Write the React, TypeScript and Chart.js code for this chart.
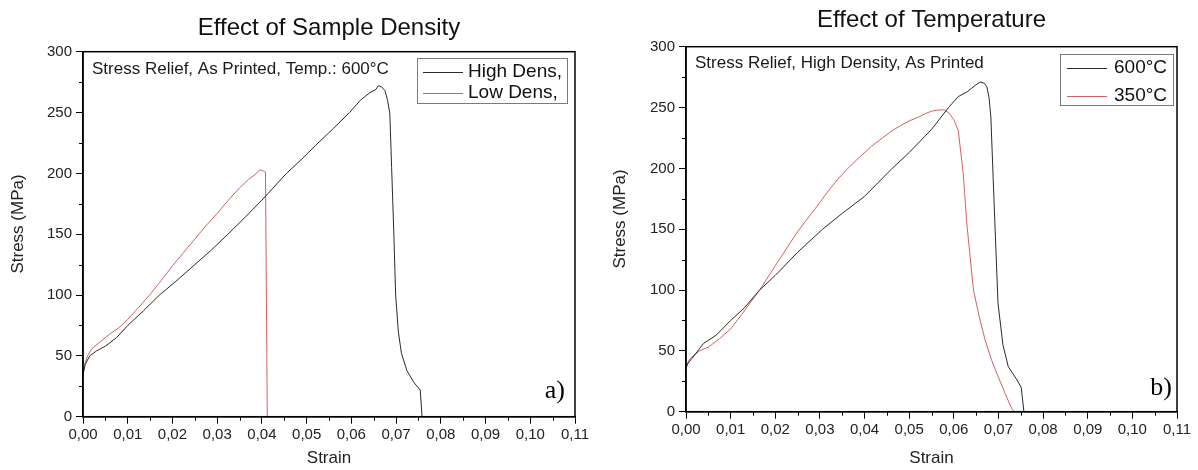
import { useEffect, useRef } from 'react';
import { Chart, registerables } from 'chart.js';

Chart.register(...registerables);

const SANS = '"Liberation Sans", Arial, Helvetica, sans-serif';
const SERIF = '"Liberation Serif", "Times New Roman", serif';

// ---------- Data: panel a) Effect of Sample Density ----------
const densityHighStrain = [0, 0.0005, 0.0015, 0.003, 0.005, 0.0075, 0.010, 0.0135, 0.0171, 0.021, 0.025, 0.0287, 0.0324, 0.036, 0.040, 0.0455, 0.049, 0.052, 0.056, 0.0596, 0.062, 0.064, 0.0655, 0.066, 0.0668, 0.0675, 0.0681, 0.0686, 0.0690, 0.0695, 0.0699, 0.0705, 0.0712, 0.0724, 0.0740, 0.0754, 0.0758];
const densityHighStress = [35, 43, 50, 54, 58, 65, 75, 87, 100, 112, 125, 137, 150, 163, 178, 200, 212, 223, 237, 250, 260, 266, 269, 272, 271, 268, 260, 249, 205, 150, 100, 70, 52, 38, 28, 22, 0];
const densityLowStrain = [0, 0.0003, 0.001, 0.002, 0.004, 0.006, 0.008, 0.010, 0.0125, 0.0149, 0.0175, 0.020, 0.0225, 0.025, 0.0275, 0.030, 0.0325, 0.035, 0.037, 0.0388, 0.0395, 0.0403, 0.0408, 0.0412];
const densityLowStress = [33, 42, 50, 56, 62, 68, 73, 80, 90, 100, 112, 124, 135, 146, 157, 167, 178, 188, 195, 200, 203, 202, 201, 0];

// ---------- Data: panel b) Effect of Temperature ----------
const temp600Strain = [0, 0.0005, 0.0016, 0.0039, 0.0068, 0.010, 0.0130, 0.0165, 0.020, 0.025, 0.0306, 0.035, 0.040, 0.0462, 0.050, 0.055, 0.0588, 0.061, 0.063, 0.0647, 0.0659, 0.0668, 0.0674, 0.0679, 0.0683, 0.0692, 0.0699, 0.0710, 0.0722, 0.0740, 0.0751, 0.0757];
const temp600Stress = [36, 40, 45, 56, 63, 75, 85, 100, 112, 131, 150, 163, 177, 200, 213, 232, 250, 259, 263, 268, 271, 270, 267, 258, 242, 155, 89, 55, 37, 27, 20, 0];
const temp350Strain = [0, 0.001, 0.003, 0.005, 0.0075, 0.010, 0.0125, 0.0145, 0.0165, 0.020, 0.025, 0.030, 0.032, 0.034, 0.036, 0.0388, 0.0415, 0.044, 0.0462, 0.048, 0.050, 0.052, 0.0536, 0.055, 0.0566, 0.0578, 0.0588, 0.0600, 0.0610, 0.0621, 0.0629, 0.0644, 0.0657, 0.0670, 0.0685, 0.0699, 0.0715, 0.0729, 0.0735];
const temp350Stress = [38, 44, 50, 53, 60, 68, 80, 90, 100, 120, 148, 172, 182, 191, 199, 209, 218, 225, 231, 235, 239, 242, 245, 247, 248, 248, 246, 240, 231, 196, 155, 100, 78, 59, 42, 29, 15, 3, 0];

// ---------- Axes ----------
const strainTicksMinor = [0.005, 0.015, 0.025, 0.035, 0.045, 0.055, 0.065, 0.075, 0.085, 0.095, 0.105];
const stressTicksMinor = [25, 75, 125, 175, 225, 275];
const xAxisTitle = 'Strain';
const yAxisTitle = 'Stress (MPa)';

const BLACK_LINE = '#2a2a2a';
const RED_LINE = '#d0625f';

type Series = { label: string; strain: number[]; stress: number[]; color: string };

type PanelSpec = {
  left: number;
  width: number;
  title: string;
  titlePadTop: number;
  titlePadBottom: number;
  yAxisWidth: number;
  xAxisHeight: number;
  rightPad: number;
  yTitleX: number;
  yTitleY: number;
  note: string;
  noteDx: number;
  noteDy: number;
  letter: string;
  letterDx: number;
  letterY: number;
  legend: { dxRight: number; dy: number; w: number; h: number; rows: number[]; line0: number; line1: number; text: number };
  series: Series[];
};

const panels: PanelSpec[] = [
  {
    left: 0,
    width: 600,
    title: 'Effect of Sample Density',
    titlePadTop: 13.6,
    titlePadBottom: 9.3,
    yAxisWidth: 83,
    xAxisHeight: 53.3,
    rightPad: 25,
    yTitleX: 18,
    yTitleY: 224,
    note: 'Stress Relief, As Printed, Temp.: 600°C',
    noteDx: 9,
    noteDy: 18,
    letter: 'a)',
    letterDx: 10,
    letterY: 391,
    legend: { dxRight: 158, dy: 6.3, w: 150, h: 45, rows: [14, 35], line0: 6, line1: 46, text: 51 },
    series: [
      { label: 'High Dens,', strain: densityHighStrain, stress: densityHighStress, color: BLACK_LINE },
      { label: 'Low Dens,', strain: densityLowStrain, stress: densityLowStress, color: RED_LINE },
    ],
  },
  {
    left: 600,
    width: 598,
    title: 'Effect of Temperature',
    titlePadTop: 5.6,
    titlePadBottom: 12.3,
    yAxisWidth: 86,
    xAxisHeight: 58.3,
    rightPad: 21,
    yTitleX: 20,
    yTitleY: 219,
    note: 'Stress Relief, High Density, As Printed',
    noteDx: 9,
    noteDy: 16.5,
    letter: 'b)',
    letterDx: 5,
    letterY: 388,
    legend: { dxRight: 117, dy: 7.3, w: 113, h: 51, rows: [14, 42], line0: 7, line1: 47, text: 54 },
    series: [
      { label: '600°C', strain: temp600Strain, stress: temp600Stress, color: BLACK_LINE },
      { label: '350°C', strain: temp350Strain, stress: temp350Stress, color: RED_LINE },
    ],
  },
];

function Panel({ spec }: { spec: PanelSpec }) {
  const ref = useRef<HTMLCanvasElement>(null);

  useEffect(() => {
    const canvas = ref.current;
    if (!canvas) return;

    const decor = {
      id: 'decor',
      afterDraw(chart: any) {
        const { ctx, chartArea: a, scales } = chart;
        const xs = scales.x;
        const ys = scales.y;
        ctx.save();
        // frame
        ctx.strokeStyle = '#000';
        ctx.lineWidth = 1.5;
        ctx.strokeRect(a.left, a.top, a.right - a.left, a.bottom - a.top);
        // minor ticks
        ctx.lineWidth = 1;
        ctx.beginPath();
        for (const v of strainTicksMinor) {
          const px = Math.round(xs.getPixelForValue(v)) + 0.5;
          ctx.moveTo(px, a.bottom);
          ctx.lineTo(px, a.bottom + 4);
        }
        for (const v of stressTicksMinor) {
          const py = Math.round(ys.getPixelForValue(v)) + 0.5;
          ctx.moveTo(a.left, py);
          ctx.lineTo(a.left - 4, py);
        }
        ctx.stroke();
        // y-axis title
        ctx.save();
        ctx.translate(spec.yTitleX, spec.yTitleY);
        ctx.rotate(-Math.PI / 2);
        ctx.fillStyle = '#222';
        ctx.font = `17px ${SANS}`;
        ctx.textAlign = 'center';
        ctx.textBaseline = 'middle';
        ctx.fillText(yAxisTitle, 0, 0);
        ctx.restore();
        // annotation
        ctx.fillStyle = '#1a1a1a';
        ctx.font = `17px ${SANS}`;
        ctx.textAlign = 'left';
        ctx.textBaseline = 'middle';
        ctx.fillText(spec.note, a.left + spec.noteDx, a.top + spec.noteDy);
        // legend
        const L = spec.legend;
        const bx = a.right - L.dxRight;
        const by = a.top + L.dy;
        ctx.strokeStyle = '#7a7a7a';
        ctx.lineWidth = 1;
        ctx.strokeRect(bx + 0.5, by + 0.5, L.w, L.h);
        ctx.font = `19px ${SANS}`;
        spec.series.forEach((s, i) => {
          const ry = by + L.rows[i];
          ctx.strokeStyle = s.color;
          ctx.lineWidth = 1;
          ctx.beginPath();
          ctx.moveTo(bx + L.line0, Math.round(ry) + 0.5);
          ctx.lineTo(bx + L.line1, Math.round(ry) + 0.5);
          ctx.stroke();
          ctx.fillStyle = '#111';
          ctx.fillText(s.label, bx + L.text, ry);
        });
        // panel letter
        ctx.font = `26px ${SERIF}`;
        ctx.textAlign = 'right';
        ctx.fillStyle = '#000';
        ctx.fillText(spec.letter, a.right - spec.letterDx, spec.letterY);
        ctx.restore();
      },
    };

    const chart = new Chart(canvas, {
      type: 'line',
      data: {
        datasets: spec.series.map((s) => ({
          label: s.label,
          data: s.strain.map((x, i) => ({ x, y: s.stress[i] })),
          borderColor: s.color,
          backgroundColor: s.color,
          borderWidth: 1,
          pointRadius: 0,
          tension: 0,
          fill: false,
        })),
      },
      options: {
        responsive: false,
        animation: false,
        events: [],
        layout: { padding: { left: 0, right: spec.rightPad, top: 0, bottom: 0 } },
        plugins: {
          legend: { display: false },
          tooltip: { enabled: false },
          title: {
            display: true,
            text: spec.title,
            fullSize: false,
            color: '#111',
            font: { size: 24, family: SANS, weight: 'normal' },
            padding: { top: spec.titlePadTop, bottom: spec.titlePadBottom },
          },
        },
        scales: {
          x: {
            type: 'linear',
            min: 0,
            max: 0.11,
            afterFit: (scale: any) => {
              scale.height = spec.xAxisHeight;
            },
            ticks: {
              stepSize: 0.01,
              autoSkip: false,
              maxRotation: 0,
              padding: 2,
              color: '#222',
              font: { size: 15, family: SANS },
              callback: (v: any) => Number(v).toFixed(2).replace('.', ','),
            },
            grid: { drawOnChartArea: false, tickLength: 7, tickColor: '#000', tickWidth: 1 },
            border: { display: true, color: '#000', width: 1.5 },
            title: {
              display: true,
              text: xAxisTitle,
              color: '#222',
              font: { size: 17, family: SANS },
              padding: { top: 0, bottom: 1 },
            },
          },
          y: {
            type: 'linear',
            min: 0,
            max: 300,
            afterFit: (scale: any) => {
              scale.width = spec.yAxisWidth;
            },
            ticks: {
              stepSize: 50,
              padding: 4,
              color: '#222',
              font: { size: 15, family: SANS },
            },
            grid: { drawOnChartArea: false, tickLength: 7, tickColor: '#000', tickWidth: 1 },
            border: { display: true, color: '#000', width: 1.5 },
            title: { display: false },
          },
        },
      },
      plugins: [decor],
    } as any);

    return () => chart.destroy();
  }, [spec]);

  return (
    <div style={{ position: 'absolute', left: spec.left, top: 0, width: spec.width, height: 470 }}>
      <canvas ref={ref} width={spec.width} height={470} style={{ width: spec.width, height: 470, display: 'block' }} />
    </div>
  );
}

export default function App() {
  return (
    <div style={{ position: 'fixed', left: 0, top: 0, width: 1198, height: 470, background: '#fff', overflow: 'hidden' }}>
      {panels.map((p) => (
        <Panel key={p.title} spec={p} />
      ))}
    </div>
  );
}
